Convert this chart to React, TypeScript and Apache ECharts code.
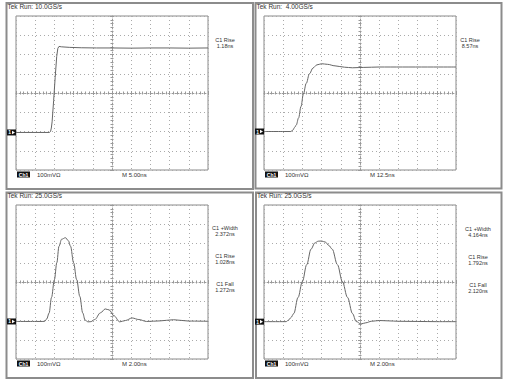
import React, { useEffect, useRef } from "react";
import * as echarts from "echarts";

// Four oscilloscope captures: 10 horizontal x 8 vertical divisions each.
const TITLES = ["Tek Run: 10.0GS/s", "Tek Run:  4.00GS/s", "Tek Run: 25.0GS/s", "Tek Run: 25.0GS/s"];
const TIMEBASE_NS = [5, 12.5, 2, 2]; // ns per division
const TIMEBASE_LABELS = ["M 5.00ns", "M 12.5ns", "M 2.00ns", "M 2.00ns"];
const VOLTS_PER_DIV_MV = 100;
const VOLTS_LABEL = "100mV\u03A9";
const GROUND_MV = [-205, -200, -205, -206];

const MEASUREMENTS: string[][][] = [
  [["C1 Rise", "1.18ns"]],
  [["C1 Rise", "8.57ns"]],
  [["C1 +Width", "2.372ns"], ["C1 Rise", "1.028ns"], ["C1 Fall", "1.272ns"]],
  [["C1 +Width", "4.164ns"], ["C1 Rise", "1.792ns"], ["C1 Fall", "2.120ns"]],
];

// Traces: [time ns relative to screen centre, mV]
const TRACE_1: [number, number][] = [
  [-25, -205], [-16.3, -205], [-16.0, -200], [-15.8, -182], [-15.6, -150], [-15.2, -40],
  [-14.8, 80], [-14.4, 190], [-14.1, 232], [-13.8, 242], [-13.2, 240], [-11, 237],
  [-8, 235], [-4, 234], [0, 234], [5, 233], [10, 234], [15, 234], [20, 233], [25, 234],
];
const TRACE_2: [number, number][] = [
  [-62.5, -200], [-45, -200], [-43.75, -193], [-42.5, -178], [-41.5, -166], [-40, -130],
  [-38.4, -70], [-36.9, -7], [-35, 50], [-32.9, 100], [-30.6, 130], [-28.1, 146],
  [-25, 152], [-21.25, 149], [-16.25, 141], [-10, 134], [-5, 131], [2.5, 133],
  [12.5, 135], [62.5, 135],
];
const TRACE_3: [number, number][] = [
  [-10, -205], [-7.2, -205], [-7.0, -204], [-6.8, -192], [-6.55, -161], [-6.3, -80],
  [-6.0, 12], [-5.75, 100], [-5.52, 186], [-5.25, 222], [-4.85, 230], [-4.55, 215],
  [-4.32, 186], [-4.0, 100], [-3.68, 12], [-3.35, -75], [-3.05, -161], [-2.8, -198],
  [-2.5, -207], [-2.2, -206], [-1.8, -195], [-1.2, -160], [-0.7, -140], [-0.3, -145],
  [0.2, -175], [0.8, -207], [1.4, -200], [2.1, -187], [2.8, -195], [3.6, -205],
  [5.0, -202], [6.4, -196], [8, -203], [10, -204],
];
const TRACE_4: [number, number][] = [
  [-10, -206], [-7.7, -206], [-7.45, -198], [-7.2, -185], [-6.9, -164], [-6.45, -80],
  [-6.0, 3], [-5.55, 90], [-5.1, 171], [-4.7, 203], [-4.35, 212], [-4.0, 213],
  [-3.6, 207], [-3.25, 190], [-2.9, 171], [-2.35, 90], [-1.84, 3], [-1.3, -80],
  [-0.78, -164], [-0.4, -205], [0.1, -218], [0.6, -212], [1.2, -204], [2.0, -200],
  [3, -202], [4, -204], [6, -205], [8, -206], [10, -206],
];
const TRACES = [TRACE_1, TRACE_2, TRACE_3, TRACE_4];
const SMOOTHING = [0, 0.35, 0.35, 0.35];

// Screen layout
const GRID_POS = [
  { left: 16, top: 16 },
  { left: 264, top: 16 },
  { left: 16, top: 205 },
  { left: 264, top: 205 },
];
const GRID_W = 192;
const GRID_H = 154;
const FRAMES = [
  { x: 6.5, y: 3, w: 246.5, h: 186 },
  { x: 255.5, y: 3, w: 246, h: 185.5 },
  { x: 6.5, y: 192.5, w: 246.5, h: 185.5 },
  { x: 256, y: 192.5, w: 245.5, h: 185.5 },
];
const MEAS_X = [225, 470, 225, 478];
const MEAS_Y = [40.5, 40.5, 228.5, 229.5];

const FONT = "Liberation Sans";
const TEXT_COLOR = "#333";
const GRID_DOT = "#aaaaaa";
const TRACE_COLOR = "#666";
const FRAME_COLOR = "#8c8c8c";

function buildOption() {
  const grid: any[] = [];
  const xAxis: any[] = [];
  const yAxis: any[] = [];
  const series: any[] = [];

  GRID_POS.forEach((g, i) => {
    grid.push({
      left: g.left, top: g.top, width: GRID_W, height: GRID_H,
      show: true, borderColor: "#8a8a8a", borderWidth: 1, backgroundColor: "transparent",
    });
    const tb = TIMEBASE_NS[i];
    const vd = VOLTS_PER_DIV_MV;
    const common = {
      type: "value", gridIndex: i,
      axisLabel: { show: false },
      minorTick: { show: true, splitNumber: 5, length: 1.5, lineStyle: { color: "#999", width: 1 } },
      axisTick: { show: true, inside: true, length: 2, lineStyle: { color: "#999", width: 1 } },
    };
    const xRange = { min: -5 * tb, max: 5 * tb, interval: tb };
    const yRange = { min: -4 * vd, max: 4 * vd, interval: vd };
    xAxis.push({
      ...common, ...xRange, position: "bottom",
      axisLine: { show: true, onZero: true, lineStyle: { color: "#9a9a9a", width: 1, type: [1, 2] } },
      splitLine: { show: true, lineStyle: { color: GRID_DOT, width: 1, type: [1, 3] } },
    });
    xAxis.push({
      ...common, ...xRange, position: "top",
      axisLine: { show: false, onZero: true },
      splitLine: { show: false },
    });
    yAxis.push({
      ...common, ...yRange, position: "left",
      axisLine: { show: true, onZero: true, lineStyle: { color: "#9a9a9a", width: 1, type: [1, 2] } },
      splitLine: { show: true, lineStyle: { color: GRID_DOT, width: 1, type: [1, 3] } },
    });
    yAxis.push({
      ...common, ...yRange, position: "right",
      axisLine: { show: false, onZero: true },
      splitLine: { show: false },
    });
    series.push({
      type: "line",
      xAxisIndex: 2 * i, yAxisIndex: 2 * i,
      data: TRACES[i],
      showSymbol: false, symbol: "none",
      smooth: SMOOTHING[i], smoothMonotone: "x",
      lineStyle: { color: TRACE_COLOR, width: 1 },
      z: 5,
    });
  });

  return {
    animation: false,
    backgroundColor: "#ffffff",
    grid, xAxis, yAxis, series,
  };
}

function textEl(x: number, y: number, text: string, opts: any = {}) {
  return {
    type: "text", x, y, z: 10,
    style: {
      text, fill: opts.color || TEXT_COLOR,
      fontSize: opts.size || 5.5, fontFamily: FONT,
      fontWeight: opts.weight || "normal",
      align: opts.align || "left", verticalAlign: "middle",
    },
  };
}

function buildGraphics(chart: echarts.ECharts) {
  const els: any[] = [];
  FRAMES.forEach((f) => {
    els.push({
      type: "rect", z: 1,
      shape: { x: f.x, y: f.y, width: f.w, height: f.h },
      style: { fill: "none", stroke: FRAME_COLOR, lineWidth: 2 },
    });
  });
  GRID_POS.forEach((g, i) => {
    const f = FRAMES[i];
    els.push(textEl(f.x + 1, f.y + 3, TITLES[i], { size: 6.5 }));
    // measurement readouts
    MEASUREMENTS[i].forEach((m, k) => {
      const y0 = MEAS_Y[i] - 0.5 + k * 28;
      els.push(textEl(MEAS_X[i], y0, m[0], { align: "center" }));
      els.push(textEl(MEAS_X[i], y0 + 6, m[1], { align: "center" }));
    });
    // bottom status line
    const by = g.top + GRID_H + 4.5;
    els.push({
      type: "rect", z: 10,
      shape: { x: g.left + 1, y: by - 3, width: 13, height: 6 },
      style: { fill: "#111" },
    });
    els.push(textEl(g.left + 7.5, by, "Ch1", { color: "#fff", size: 5, weight: "bold", align: "center" }));
    els.push(textEl(g.left + 21, by, VOLTS_LABEL, { size: 6 }));
    els.push(textEl(g.left + 106, by, TIMEBASE_LABELS[i], { size: 6 }));
    // channel ground marker at the left edge of the graticule
    const p = chart.convertToPixel({ gridIndex: i } as any, [-5 * TIMEBASE_NS[i], GROUND_MV[i]]) as number[];
    const gx = p[0];
    const gy = p[1];
    els.push({
      type: "rect", z: 10,
      shape: { x: gx - 9, y: gy - 3, width: 9, height: 6 },
      style: { fill: "#111" },
    });
    els.push(textEl(gx - 7.8, gy, "1", { color: "#fff", size: 5, weight: "bold" }));
    els.push({
      type: "polygon", z: 11,
      shape: { points: [[gx - 4, gy - 1.8], [gx - 1, gy], [gx - 4, gy + 1.8]] },
      style: { fill: "#fff" },
    });
  });
  return els;
}

export default function App() {
  const ref = useRef<HTMLDivElement>(null);
  useEffect(() => {
    if (!ref.current) return;
    const chart = echarts.init(ref.current, undefined, { renderer: "svg" });
    chart.setOption(buildOption() as any);
    chart.setOption({ graphic: buildGraphics(chart) } as any);
    return () => chart.dispose();
  }, []);
  return (
    <div
      ref={ref}
      style={{ position: "fixed", left: 0, top: 0, width: 509, height: 387, background: "#fff" }}
    />
  );
}
